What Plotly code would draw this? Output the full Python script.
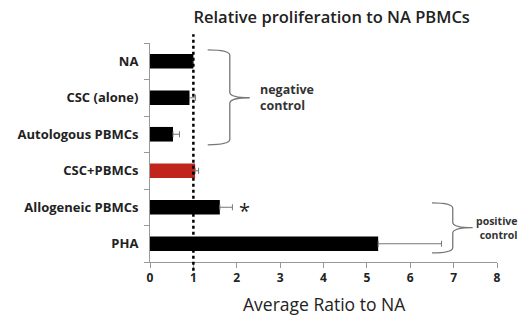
import plotly.graph_objects as go

categories = ["NA", "CSC (alone)", "Autologous PBMCs", "CSC+PBMCs", "Allogeneic PBMCs", "PHA"]
values = [1.0, 0.91, 0.53, 1.04, 1.61, 5.26]
errors = [0.0, 0.14, 0.15, 0.08, 0.29, 1.46]
bar_colors = ["#000000", "#000000", "#000000", "#c0241c", "#000000", "#000000"]
x_ticks = [0, 1, 2, 3, 4, 5, 6, 7, 8]

FONT = "Open Sans"
ypos = list(range(len(categories)))

fig = go.Figure()
fig.add_trace(go.Bar(
    y=ypos, x=values, orientation="h",
    marker=dict(color=bar_colors, line=dict(width=0)),
    width=0.4,
    error_x=dict(type="data", array=errors, arrayminus=[0]*len(errors), symmetric=False,
                 color="#777777", thickness=1, width=3),
    showlegend=False,
))

fig.update_layout(
    width=529, height=322,
    margin=dict(l=150, r=32, t=43, b=60),
    paper_bgcolor="white", plot_bgcolor="white",
    font=dict(family=FONT, color="#222222"),
    xaxis=dict(range=[0, 8], tickvals=x_ticks, ticks="outside", ticklen=5, tickcolor="#999999",
               showline=True, linecolor="#999999", linewidth=1, showgrid=False, zeroline=False,
               automargin=False,
               tickfont=dict(size=12, weight="bold", color="#222222")),
    yaxis=dict(range=[5.5, -0.5], tickvals=ypos, ticktext=categories, ticks="",
               showline=True, linecolor="#999999", linewidth=1, showgrid=False, zeroline=False,
               ticklabelstandoff=8, automargin=False,
               tickfont=dict(size=13, weight="bold", color="#222222"),
               minor=dict(tickvals=[-0.5, 0.5, 1.5, 2.5, 3.5, 4.5, 5.5], ticks="outside",
                          ticklen=5, tickcolor="#999999")),
    title=dict(text="Relative proliferation to NA PBMCs", x=0.627, xanchor="center",
               y=1 - 17/322, yanchor="middle",
               font=dict(size=16.5, weight=600, color="#222222")),
)

# dotted reference line at 1
fig.add_shape(type="line", xref="x", yref="paper", x0=1, x1=1, y0=-0.04, y1=1.04,
              line=dict(color="black", width=2.5, dash="dot"))


def brace(xl, xv, xp, yt, ym, yb):
    c = 0.15
    return (f"M {xl},{yt} Q {xv},{yt} {xv},{yt+c} L {xv},{ym-c} Q {xv},{ym} {xp},{ym} "
            f"Q {xv},{ym} {xv},{ym+c} L {xv},{yb-c} Q {xv},{yb} {xl},{yb}")


fig.add_shape(type="path", xref="x", yref="y", path=brace(1.33, 1.84, 2.3, -0.31, 1.0, 2.29),
              line=dict(color="#777777", width=1.3))
fig.add_shape(type="path", xref="x", yref="y", path=brace(6.5, 6.98, 7.44, 3.88, 4.56, 5.25),
              line=dict(color="#777777", width=1.3))

fig.add_annotation(x=2.5, y=1.0, xref="x", yref="y", text="negative<br>control", showarrow=False,
                   xanchor="left", align="left", font=dict(size=12.5, weight="bold", color="#333333"))
fig.add_annotation(x=8.0, y=4.56, xref="x", yref="y", text="positive<br>control", showarrow=False,
                   xanchor="center", align="right", font=dict(size=10.5, weight="bold", color="#333333"))
fig.add_annotation(x=2.18, y=4, xref="x", yref="y", text="*", showarrow=False,
                   font=dict(size=20, color="#222222"), yshift=-3)
fig.add_annotation(x=0.504, y=-0.19, xref="paper", yref="paper", yanchor="middle",
                   text="Average Ratio to NA", showarrow=False,
                   font=dict(size=17.5, color="#222222"))

fig.write_html("out.html", config={"displayModeBar": False},
               post_script="document.body.style.margin='0';")
